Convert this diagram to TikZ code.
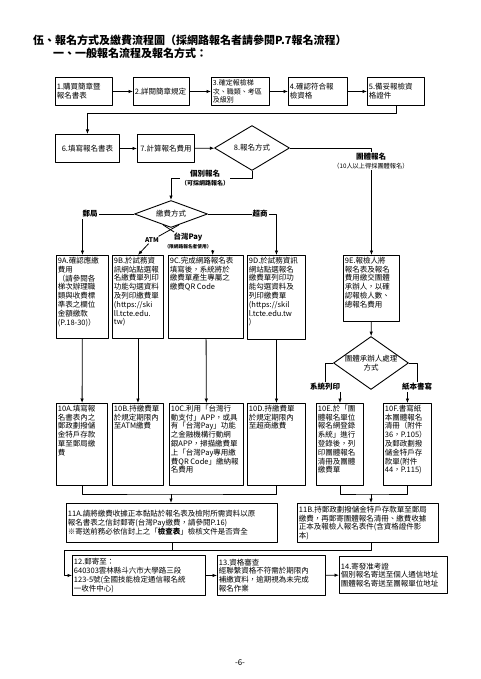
\documentclass[tikz,border=0pt]{standalone}
\usepackage{fontspec}
\setmainfont{Noto Sans CJK TC}
\usetikzlibrary{shapes.geometric,arrows.meta}
\newcommand{\cellbox}[3]{\parbox[t][#2][t]{#1}{\raggedright #3}}
\tikzset{
  flow/.style={draw, line width=0.9pt, inner sep=1.5pt, anchor=north west, font=\fontsize{7.5}{8.8}\selectfont},
  stepbox/.style={flow, align=left, minimum height=28pt},
  decide/.style={draw, line width=0.9pt, diamond, inner sep=0pt, aspect=2, align=center, font=\fontsize{7.5}{8.8}\selectfont},
  tag/.style={inner sep=1pt, fill=white, align=center, font=\fontsize{7.5}{8.5}\selectfont\bfseries},
  link/.style={line width=0.8pt},
  arr/.style={link, -{Latex[length=4.5pt,width=3.5pt]}},
}
\begin{document}
\begin{tikzpicture}[x=1pt,y=-1pt,line join=round]
  \useasboundingbox (0,0) rectangle (480,679);
  % titles
  \node[anchor=west, inner sep=0pt, font=\fontsize{11}{13}\selectfont\bfseries] (title) at (33,40) {伍、報名方式及繳費流程圖（採網路報名者請參閱P.7報名流程）};
  \node[anchor=west, inner sep=0pt, font=\fontsize{11}{13}\selectfont\bfseries] (subtitle) at (53,53) {一、一般報名流程及報名方式：};
  % steps 1-5
  \node[stepbox, text width=54pt] (s1) at (55,77) {1.購買簡章暨\\報名書表};
  \node[stepbox, text width=53pt] (s2) at (133,77) {2.詳閱簡章規定};
  \node[stepbox, text width=55pt, font=\fontsize{7}{8.6}\selectfont] (s3) at (211,77) {3.確定報檢梯\\次、職類、考區\\及級別};
  \node[stepbox, text width=56pt] (s4) at (288,77) {4.確認符合報\\檢資格};
  \node[stepbox, text width=54pt] (s5) at (367,77) {5.備妥報檢資\\格證件};
  % steps 6-8
  \node[stepbox, text width=61pt, align=center] (s6) at (55,134) {6.填寫報名書表};
  \node[stepbox, text width=54pt, align=center] (s7) at (137,134) {7.計算報名費用};
  \node[decide, minimum width=75pt, minimum height=45pt] (d8) at (252,148) {8.報名方式};
  \node[decide, aspect=2.7, minimum width=73pt, minimum height=27pt] (dpay) at (171,214) {繳費方式};
  % step 9
  \node[flow] (s9A) at (56,255) {\cellbox{49pt}{80pt}{9A.確認應繳\\費用\\（請參閱各\\梯次辦理職\\類與收費標\\準表之欄位\\金額繳款\\(P.18-30)）}};
  \node[flow] (s9B) at (112,255) {\cellbox{48pt}{80pt}{9B.於試務資\\訊網站點選報\\名繳費單列印\\功能勾選資料\\及列印繳費單\\(https://ski\\ll.tcte.edu.\\tw)}};
  \node[flow] (s9C) at (168,255) {\cellbox{72pt}{80pt}{9C.完成網路報名表\\填寫後，系統將於\\繳費單產生專屬之\\繳費QR~Code}};
  \node[flow] (s9D) at (247,255) {\cellbox{55pt}{81pt}{9D.於試務資訊\\網站點選報名\\繳費單列印功\\能勾選資料及\\列印繳費單\\(https://skil\\l.tcte.edu.tw\\)}};
  \node[flow] (s9E) at (343,255) {\cellbox{53pt}{63pt}{9E.報檢人將\\報名表及報名\\費用繳交團體\\承辦人，以確\\認報檢人數、\\總報名費用}};
  \node[decide, aspect=1.4, inner sep=-3pt, minimum width=75pt, minimum height=53pt] (dgrp) at (371,363) {團體承辦人處理\\方式};
  % step 10
  \node[flow] (s10A) at (56,403) {\cellbox{48pt}{79pt}{10A.填寫報\\名書表內之\\郵政劃撥儲\\金特戶存款\\單至郵局繳\\費}};
  \node[flow] (s10B) at (112,403) {\cellbox{48pt}{79pt}{10B.持繳費單\\於規定期限內\\至ATM繳費}};
  \node[flow] (s10C) at (169,403) {\cellbox{71pt}{79pt}{10C.利用「台灣行\\動支付」APP，或具\\有「台灣Pay」功能\\之金融機構行動網\\銀APP，掃描繳費單\\上「台灣Pay專用繳\\費QR~Code」繳納報\\名費用}};
  \node[flow] (s10D) at (247,403) {\cellbox{55pt}{79pt}{10D.持繳費單\\於規定期限內\\至超商繳費}};
  \node[flow] (s10E) at (316,403) {\cellbox{44pt}{79pt}{10E.於「團\\體報名單位\\報名網登錄\\系統」進行\\登錄後，列\\印團體報名\\清冊及團體\\繳費單}};
  \node[flow] (s10F) at (383,403) {\cellbox{45pt}{79pt}{10F.書寫紙\\本團體報名\\清冊（附件\\36，P.105）\\及郵政劃撥\\儲金特戶存\\款單(附件\\44，P.115)}};
  % steps 11-14
  \node[stepbox, text width=208pt, minimum height=39pt] (s11A) at (66,503) {11A.請將繳費收據正本黏貼於報名表及檢附所需資料以原\\報名書表之信封郵寄(台灣Pay繳費，請參閱P.16)\\※寄送前務必依信封上之「\textbf{檢查表}」檢核文件是否齊全};
  \node[stepbox, text width=138pt, minimum height=39pt] (s11B) at (297,503) {11B.持郵政劃撥儲金特戶存款單至郵局\\繳費，再郵寄團體報名清冊、繳費收據\\正本及報檢人報名表件(含資格證件影\\本)};
  \node[stepbox, text width=130pt, minimum height=40pt] (s12) at (72,555) {12.郵寄至：\\640303雲林縣斗六市大學路三段\\123-5號(全國技能檢定通信報名統\\一收件中心)};
  \node[stepbox, text width=105pt, minimum height=40pt] (s13) at (217,555) {13.資格審查\\經聯繫資格不符需於期限內\\補繳資料，逾期視為未完成\\報名作業};
  \node[stepbox, text width=105pt, minimum height=37pt] (s14) at (339,556) {14.寄發准考證\\個別報名寄送至個人通信地址\\團體報名寄送至團報單位地址};
  % labels that end a connector
  \node[tag, font=\fontsize{6.5}{7}\selectfont\bfseries] (latm) at (152,240) {ATM};
  \node[tag] (lpay) at (188,241) {台灣Pay\\{\fontsize{4.7}{5.5}\selectfont （限網路報名者使用）}};
  \node[tag] (lsys) at (325,387) {系統列印};
  \node[tag] (lpaper) at (417,387) {紙本書寫};
  \coordinate (jl) at (171,494);
  \coordinate (jr) at (371,494);
  \coordinate (jb) at (64,550);
  % connectors
  \draw[arr] (s1) -- (s2);
  \draw[arr] (s2) -- (s3);
  \draw[arr] (s3) -- (s4);
  \draw[arr] (s4) -- (s5);
  \draw[arr] (s5.south) -- ++(0,8) -| (s6.north);
  \draw[arr] (s6) -- (s7);
  \draw[arr] (s7) -- (d8);
  \draw[arr] (d8.east) -| (s9E.north);
  \draw[arr] (d8.south) -- ++(0,7) -| (dpay.north);
  \draw[arr] (dpay.west) -| (s9A.north);
  \draw[arr] (dpay.east) -| (s9D.north);
  \draw[link] (dpay.305) -- (latm);
  \draw[arr] (latm) -- (s9B.north);
  \draw[link] (dpay.235) -- (lpay);
  \draw[arr] (lpay.south east) -- (lpay.south east |- s9C.north);
  \draw[arr] (s9A) -- (s10A);
  \draw[arr] (s9B) -- (s10B);
  \draw[arr] (s9C) -- (s10C);
  \draw[arr] (s9D) -- (s10D);
  \draw[arr] (s9E) -- (dgrp);
  \draw[link] (dgrp.west) -| (lsys.north);
  \draw[arr] (lsys.south -| s10E.north) -- (s10E.north);
  \draw[link] (dgrp.east) -| (lpaper.north);
  \draw[arr] (lpaper.south -| s10F.north) -- (s10F.north);
  \draw[link] (s10A.south) |- (jl) -| (s10D.south);
  \draw[arr] (jl) -- (jl |- s11A.north);
  \draw[link] (s10E.south) |- (jr) -| (s10F.south);
  \draw[arr] (jr) -- (jr |- s11B.north);
  \draw[link] (s11A.south) -- (s11A.south |- jb);
  \draw[arr] (jr |- s11B.south) |- (jb) |- (s12.west);
  \draw[arr] (s12) -- (s13);
  \draw[arr] (s13) -- (s14);
  % labels over connectors
  \node[tag] (lgrp) at (371,161) {團體報名\\{\fontsize{6.2}{7}\selectfont\mdseries （10人以上得採團體報名）}};
  \node[tag] (lind) at (205,178) {個別報名\\{\fontsize{6}{7}\selectfont （可採網路報名）}};
  \node[tag] (lpost) at (90,214) {郵局};
  \node[tag] (lshop) at (260,214) {超商};
  % page number
  \node[font=\fontsize{8}{9}\selectfont] (pageno) at (240,663) {-6-};
\end{tikzpicture}
\end{document}
